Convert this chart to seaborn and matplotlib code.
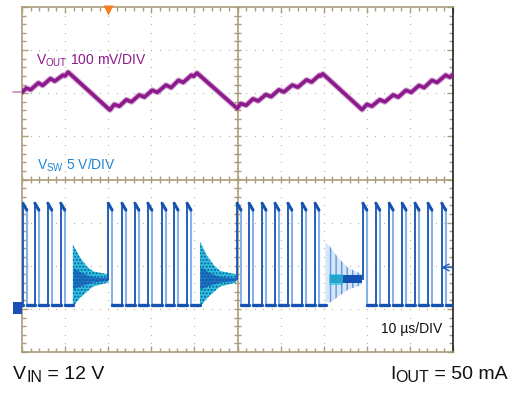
import matplotlib
matplotlib.use('Agg')
import matplotlib.pyplot as plt
import numpy as np
import seaborn as sns
from matplotlib.patches import Rectangle

sns.set_theme(style='white')
plt.rcParams['font.family'] = ['Liberation Sans', 'DejaVu Sans']
plt.rcParams['mathtext.fontset'] = 'custom'
plt.rcParams['mathtext.rm'] = 'Liberation Sans'
plt.rcParams['mathtext.it'] = 'Liberation Sans:italic'

# scope screen: 10 x 8 divisions, time in div (10 us/div), volts in div
# VOUT trace (100 mV/div)
vout_t = [0.00, 0.10, 0.20, 0.38, 0.48, 0.66, 0.76, 0.95, 1.00, 1.07,
          2.04, 2.14, 2.26, 2.42, 2.54, 2.72, 2.84, 3.02, 3.14, 3.34, 3.46,
          3.63, 3.74, 3.93, 3.98, 4.06,
          4.99, 5.08, 5.20, 5.36, 5.48, 5.66, 5.78, 5.96, 6.08, 6.27, 6.40,
          6.60, 6.72, 6.90, 6.93, 6.98,
          7.89, 8.00, 8.12, 8.30, 8.42, 8.61, 8.73, 8.91, 9.03, 9.21, 9.33,
          9.51, 9.63, 9.83, 9.93, 10.0]
vout_v = [2.02, 2.12, 2.08, 2.24, 2.18, 2.34, 2.28, 2.42, 2.40, 2.49,
          1.61, 1.74, 1.70, 1.85, 1.80, 1.96, 1.91, 2.07, 2.02, 2.19, 2.13,
          2.30, 2.25, 2.42, 2.39, 2.47,
          1.65, 1.76, 1.72, 1.87, 1.82, 1.97, 1.92, 2.08, 2.03, 2.19, 2.14,
          2.31, 2.26, 2.42, 2.40, 2.45,
          1.62, 1.74, 1.70, 1.85, 1.80, 1.96, 1.91, 2.07, 2.02, 2.18, 2.13,
          2.30, 2.25, 2.42, 2.37, 2.44]

# VSW switching pulses (5 V/div): rising-edge times of each burst
burst_a = [0.02, 0.30, 0.60, 0.90]
burst_b = [2.00, 2.32, 2.62, 2.92, 3.25, 3.53, 3.83]
burst_c = [4.99, 5.27, 5.57, 5.87, 6.17, 6.50, 6.80]
burst_d = [7.91, 8.21, 8.52, 8.82, 9.12, 9.42, 9.74]
burst_end = [1.18, 4.13, 7.05, 10.0]
vsw_high = -0.57
vsw_low = -2.95
vsw_ring_mid = -2.32
pulse_w = 0.09

# ringing envelopes after each burst
ring_a_t = [1.18, 1.35, 1.51, 1.65, 2.00]
ring_a_hi = [-1.51, -1.81, -2.02, -2.13, -2.20]
ring_a_lo = [-2.95, -2.74, -2.60, -2.48, -2.39]
ring_b_t = [4.13, 4.30, 4.46, 4.60, 4.97]
ring_b_hi = [-1.44, -1.78, -2.00, -2.12, -2.20]
ring_b_lo = [-2.95, -2.75, -2.60, -2.48, -2.39]
ring_c_t = [7.05, 7.15, 7.33, 7.56, 7.89]
ring_c_hi = [-1.46, -1.56, -1.81, -2.04, -2.20]
ring_c_lo = [-2.85, -2.85, -2.72, -2.56, -2.44]

tan = '#ab9d7b'
purple = '#8c1a8c'
dblue = '#1553b3'
lblue = '#86b2e8'
cyan = '#2cc6d8'

fig = plt.figure(figsize=(5.2, 3.98), dpi=100)
ax = fig.add_axes([22 / 520, 46 / 398, 431 / 520, 345 / 398])
ax.set_xlim(0, 10)
ax.set_ylim(-4, 4)

# graticule
for s in ax.spines.values():
    s.set_color(tan)
    s.set_linewidth(1.2)
ax.spines['right'].set_color('#222222')
ax.set_xticks(range(0, 11))
ax.set_yticks(range(-4, 5))
ax.set_xticks(np.arange(0, 10.01, 0.2), minor=True)
ax.set_yticks(np.arange(-4, 4.01, 0.2), minor=True)
ax.tick_params(which='both', direction='in', top=True, right=True, bottom=True, left=True,
               labelbottom=False, labelleft=False, color=tan, width=1)
ax.tick_params(which='major', length=4.5)
ax.tick_params(which='minor', length=2.8)
ax.grid(False, which='both')

minor_x = np.arange(0, 10.01, 0.2)
minor_y = np.arange(-4, 4.01, 0.2)
for gx in [1, 2, 3, 4, 6, 7, 8, 9]:
    ax.plot(np.full(len(minor_y), gx), minor_y, ls='none', marker='o', ms=0.9, mew=0, color='#bdb193', zorder=1)
for gy in [-3, -2, -1, 1, 2, 3]:
    ax.plot(minor_x, np.full(len(minor_x), gy), ls='none', marker='o', ms=0.9, mew=0, color='#bdb193', zorder=1)
ax.axhline(0, color=tan, lw=1.2, zorder=1)
ax.axvline(5, color=tan, lw=1.2, zorder=1)
ax.vlines(minor_x, -0.09, 0.09, color=tan, lw=1, zorder=1)
ax.hlines(minor_y, 4.91, 5.09, color=tan, lw=1, zorder=1)

# VOUT
ax.plot(vout_t, vout_v, color=purple, lw=4.2, alpha=0.35, zorder=3)
sns.lineplot(x=vout_t, y=vout_v, sort=False, estimator=None, color=purple, lw=2.6, ax=ax, zorder=4)

# VSW ringing
for rt, rh, rl in [(ring_a_t, ring_a_hi, ring_a_lo), (ring_b_t, ring_b_hi, ring_b_lo)]:
    rt, rh, rl = np.array(rt), np.array(rh), np.array(rl)
    ax.fill_between(rt, rl, rh, facecolor=cyan, edgecolor=dblue, hatch='.....', lw=0, zorder=3)
    ax.fill_between(rt, vsw_ring_mid + 0.35 * (rl - vsw_ring_mid), vsw_ring_mid + 0.35 * (rh - vsw_ring_mid),
                    color=dblue, alpha=0.7, lw=0, zorder=3)
rt, rh, rl = np.array(ring_c_t), np.array(ring_c_hi), np.array(ring_c_lo)
ax.fill_between(rt, rl, rh, facecolor='#d6e6f8', edgecolor='#5f97de', hatch='|||', lw=0, zorder=3)
ax.fill_between(rt[1:], vsw_ring_mid - 0.09, vsw_ring_mid + 0.1, color=dblue, lw=0, zorder=3)
ax.fill_between([7.12, 7.45], vsw_ring_mid - 0.12, vsw_ring_mid + 0.12, color=cyan, alpha=0.7, lw=0, zorder=3)

# VSW pulses
bursts = [burst_a, burst_b, burst_c, burst_d]
for i, rises in enumerate(bursts):
    start = vsw_low if i == 0 else vsw_ring_mid
    for j, t in enumerate(rises):
        base = start if j == 0 else vsw_low
        ax.vlines(t, base, vsw_high, color=dblue, lw=1.3, zorder=5)
        ax.vlines(t + pulse_w, vsw_low, vsw_high - 0.1, color=lblue, lw=1.5, zorder=5)
        ax.plot([t, t + pulse_w], [vsw_high + 0.02, vsw_high - 0.14], color=dblue, lw=2.2, zorder=5)
        nxt = rises[j + 1] if j + 1 < len(rises) else burst_end[i]
        ax.plot([t + pulse_w, nxt], [vsw_low + 0.03, vsw_low + 0.03], color=dblue, lw=2.4, zorder=5)
ax.plot([0, burst_a[0]], [vsw_low + 0.03, vsw_low + 0.03], color=dblue, lw=2.4, zorder=5)

# channel / trigger markers
ax.plot([-0.2, 0], [2.04, 2.04], color='#c48ac4', lw=1.2, clip_on=False)
ax.add_patch(Rectangle((-0.216, -3.11), 0.21, 0.28, facecolor='#1a50b5', edgecolor='none', clip_on=False, zorder=6))
ax.annotate('', xy=(-0.04, -2.97), xytext=(-0.18, -2.97),
            arrowprops=dict(arrowstyle='->', color='white', lw=1, shrinkA=0, shrinkB=0), annotation_clip=False)
ax.annotate('', xy=(9.72, -2.04), xytext=(9.99, -2.04),
            arrowprops=dict(arrowstyle='->', color='#2060c0', lw=1, shrinkA=0, shrinkB=0), zorder=6)
ax.plot([2.0], [3.92], marker='v', ms=7, color='#f47b20', mec='none', clip_on=False, zorder=6)

# labels
ax.text(0.32, 2.67, r'V$_{\mathrm{OUT}}$ 100 mV/DIV', color=purple, fontsize=10, va='baseline')
ax.text(0.34, 0.23, r'V$_{\mathrm{SW}}$ 5 V/DIV', color='#2184d4', fontsize=10, va='baseline')
ax.text(8.33, -3.57, '10 µs/DIV', color='#111111', fontsize=10, va='baseline')


def sub_label(x_px, y_px, main, sub, rest):
    # main letter, subscript and the rest, placed one after another (pixel coords)
    r = fig.canvas.get_renderer()
    t1 = fig.text(x_px / 520, y_px / 398, main, fontsize=14, color='#111111', va='baseline')
    w1 = t1.get_window_extent(r).width
    t2 = fig.text((x_px + w1) / 520, (y_px - 3.5) / 398, sub, fontsize=11.5, color='#111111', va='baseline')
    w2 = t2.get_window_extent(r).width
    fig.text((x_px + w1 + w2) / 520, y_px / 398, rest, fontsize=14, color='#111111', va='baseline')


sub_label(13, 19, 'V', 'IN', ' = 12 V')
sub_label(390, 19, 'I', 'OUT', ' = 50 mA')

fig.savefig('out.png', dpi=100)
